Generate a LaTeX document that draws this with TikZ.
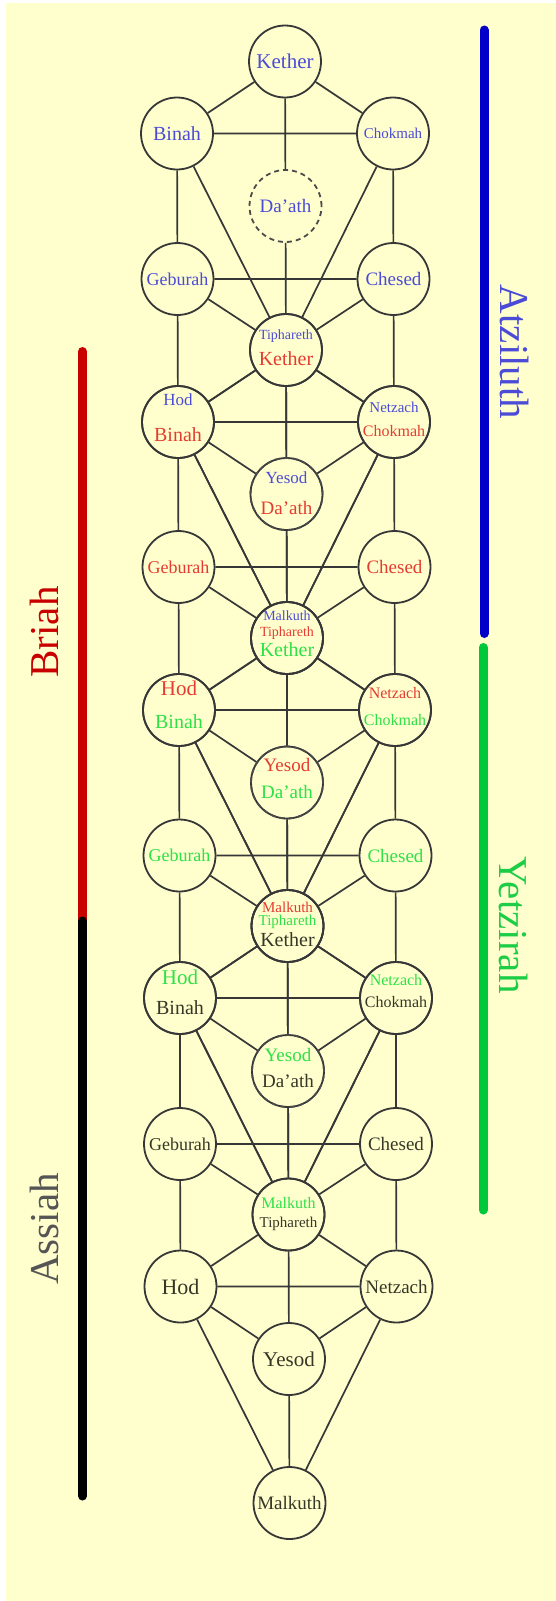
\documentclass[tikz,border=0pt]{standalone}
\usepackage{fontspec}
\setmainfont{Liberation Serif}

\definecolor{paper}{RGB}{255,255,206}
\definecolor{linecol}{RGB}{55,55,55}
\definecolor{atzcol}{RGB}{75,75,215}
\definecolor{bricol}{RGB}{228,60,50}
\definecolor{yetcol}{RGB}{45,225,70}
\definecolor{asscol}{RGB}{55,55,40}
\definecolor{atzbar}{RGB}{0,0,200}
\definecolor{bribar}{RGB}{200,0,0}
\definecolor{yetbar}{RGB}{0,200,60}
\definecolor{assbar}{RGB}{0,0,0}
\definecolor{asslbl}{RGB}{85,85,85}
\definecolor{yetlbl}{RGB}{30,205,70}

\tikzset{
  sephira/.style={circle, draw=linecol, line width=1.8pt, minimum size=72pt, inner sep=0pt},
  sephdash/.style={sephira, draw=linecol!90, dash pattern=on 5pt off 4pt},
  conn/.style={draw=linecol, line width=1.7pt},
  worldbar/.style={line width=9pt, line cap=round},
  worldlbl/.style={font=\fontsize{41}{41}\selectfont},
  sz14/.style={font=\fontsize{14}{14}\selectfont},
  sz15/.style={font=\fontsize{15}{15}\selectfont},
  sz16/.style={font=\fontsize{16}{16}\selectfont},
  sz17/.style={font=\fontsize{17}{17}\selectfont},
  sz18/.style={font=\fontsize{18}{18}\selectfont},
  sz19/.style={font=\fontsize{19}{19}\selectfont},
  sz20/.style={font=\fontsize{20}{20}\selectfont},
  sz21/.style={font=\fontsize{21}{21}\selectfont},
  sz22/.style={font=\fontsize{22}{22}\selectfont}
}

\begin{document}
\begin{tikzpicture}[x=1pt,y=-1pt]
\useasboundingbox (0,0) rectangle (556,1601);
\fill[white] (0,0) rectangle (556,1601);
\fill[paper] (6,3) rectangle (556,1601);

% Atziluth
\node [sephira, label={[sz21,text=atzcol]center:Kether}] (a-ket) at (285,61.5) {};
\node [sephira, label={[sz20,text=atzcol]center:Binah}] (a-bin) at (177,133.5) {};
\node [sephira, label={[sz15,text=atzcol]center:Chokmah}] (a-cho) at (393,133.5) {};
\node [sephdash, label={[sz19,text=atzcol]center:Da'ath}] (a-daa) at (285.5,206) {};
\node [sephira, label={[sz18,text=atzcol]center:Geburah}] (a-geb) at (177.5,279) {};
\node [sephira, label={[sz19,text=atzcol]center:Chesed}] (a-che) at (393.5,279) {};
\node [sephira, label={[sz14,text=atzcol,yshift=14pt]center:Tiphareth}] (a-tip) at (286,350) {};
\node [sephira, label={[sz17,text=atzcol,yshift=22pt]center:Hod}] (a-hod) at (178,422) {};
\node [sephira, label={[sz15,text=atzcol,yshift=15pt]center:Netzach}] (a-net) at (394,422) {};
\node [sephira, label={[sz17,text=atzcol,yshift=16pt]center:Yesod}] (a-yes) at (286.5,494) {};
\node [sephira, label={[sz14,text=atzcol,yshift=22pt]center:Malkuth}] (a-mal) at (287,638) {};

% Briah
\node [sephira, label={[sz20,text=bricol,yshift=-9pt]center:Kether}] (b-ket) at (286,350) {};
\node [sephira, label={[sz20,text=bricol,yshift=-13pt]center:Binah}] (b-bin) at (178,422) {};
\node [sephira, label={[sz16,text=bricol,yshift=-9pt]center:Chokmah}] (b-cho) at (394,422) {};
\node [sephdash, label={[sz19,text=bricol,yshift=-14pt]center:Da'ath}] (b-daa) at (286.5,494) {};
\node [sephira, label={[sz18,text=bricol]center:Geburah}] (b-geb) at (178.5,567) {};
\node [sephira, label={[sz19,text=bricol]center:Chesed}] (b-che) at (394.5,567) {};
\node [sephira, label={[sz14,text=bricol,yshift=5pt]center:Tiphareth}] (b-tip) at (287,638) {};
\node [sephira, label={[sz21,text=bricol,yshift=22pt]center:Hod}] (b-hod) at (179,710) {};
\node [sephira, label={[sz16,text=bricol,yshift=17pt]center:Netzach}] (b-net) at (395,710) {};
\node [sephira, label={[sz19,text=bricol,yshift=18pt]center:Yesod}] (b-yes) at (287,782.5) {};
\node [sephira, label={[sz15,text=bricol,yshift=19pt]center:Malkuth}] (b-mal) at (287.5,926) {};

% Yetzirah
\node [sephira, label={[sz20,text=yetcol,yshift=-12pt]center:Kether}] (y-ket) at (287,638) {};
\node [sephira, label={[sz20,text=yetcol,yshift=-12pt]center:Binah}] (y-bin) at (179,710) {};
\node [sephira, label={[sz16,text=yetcol,yshift=-10pt]center:Chokmah}] (y-cho) at (395,710) {};
\node [sephdash, label={[sz19,text=yetcol,yshift=-9pt]center:Da'ath}] (y-daa) at (287,782.5) {};
\node [sephira, label={[sz18,text=yetcol]center:Geburah}] (y-geb) at (179.5,855.5) {};
\node [sephira, label={[sz19,text=yetcol]center:Chesed}] (y-che) at (395.5,855.5) {};
\node [sephira, label={[sz15,text=yetcol,yshift=4pt]center:Tiphareth}] (y-tip) at (287.5,926) {};
\node [sephira, label={[sz21,text=yetcol,yshift=21pt]center:Hod}] (y-hod) at (180,998) {};
\node [sephira, label={[sz16,text=yetcol,yshift=18pt]center:Netzach}] (y-net) at (396,998) {};
\node [sephira, label={[sz19,text=yetcol,yshift=16pt]center:Yesod}] (y-yes) at (288,1071) {};
\node [sephira, label={[sz16,text=yetcol,yshift=11pt]center:Malkuth}] (y-mal) at (288.5,1214.5) {};

% Assiah
\node [sephira, label={[sz20,text=asscol,yshift=-14pt]center:Kether}] (s-ket) at (287.5,926) {};
\node [sephira, label={[sz20,text=asscol,yshift=-10pt]center:Binah}] (s-bin) at (180,998) {};
\node [sephira, label={[sz16,text=asscol,yshift=-4pt]center:Chokmah}] (s-cho) at (396,998) {};
\node [sephdash, label={[sz19,text=asscol,yshift=-10pt]center:Da'ath}] (s-daa) at (288,1071) {};
\node [sephira, label={[sz18,text=asscol]center:Geburah}] (s-geb) at (180,1144) {};
\node [sephira, label={[sz19,text=asscol]center:Chesed}] (s-che) at (396,1144) {};
\node [sephira, label={[sz15,text=asscol,yshift=-9pt]center:Tiphareth}] (s-tip) at (288.5,1214.5) {};
\node [sephira, label={[sz22,text=asscol]center:Hod}] (s-hod) at (180.5,1286.5) {};
\node [sephira, label={[sz19,text=asscol]center:Netzach}] (s-net) at (396.5,1286.5) {};
\node [sephira, label={[sz21,text=asscol]center:Yesod}] (s-yes) at (289,1359) {};
\node [sephira, label={[sz19,text=asscol]center:Malkuth}] (s-mal) at (289.5,1503) {};

% paths, Atziluth
\draw [conn] (a-ket) -- (a-bin) (a-ket) -- (a-cho) (a-ket) -- (a-daa) (a-daa) -- (a-tip)
  (a-bin) -- (a-cho) (a-bin) -- (a-geb) (a-cho) -- (a-che) (a-bin) -- (a-tip) (a-cho) -- (a-tip);
\draw [conn] (a-geb) -- (a-che) (a-geb) -- (a-tip) (a-che) -- (a-tip) (a-geb) -- (a-hod) (a-che) -- (a-net);
\draw [conn] (a-tip) -- (a-hod) (a-tip) -- (a-net) (a-tip) -- (a-yes) (a-hod) -- (a-net) (a-hod) -- (a-yes) (a-net) -- (a-yes);
\draw [conn] (a-hod) -- (a-mal) (a-net) -- (a-mal) (a-yes) -- (a-mal);

% paths, Briah
\draw [conn] (b-ket) -- (b-bin) (b-ket) -- (b-cho) (b-ket) -- (b-daa) (b-daa) -- (b-tip)
  (b-bin) -- (b-cho) (b-bin) -- (b-geb) (b-cho) -- (b-che) (b-bin) -- (b-tip) (b-cho) -- (b-tip);
\draw [conn] (b-geb) -- (b-che) (b-geb) -- (b-tip) (b-che) -- (b-tip) (b-geb) -- (b-hod) (b-che) -- (b-net);
\draw [conn] (b-tip) -- (b-hod) (b-tip) -- (b-net) (b-tip) -- (b-yes) (b-hod) -- (b-net) (b-hod) -- (b-yes) (b-net) -- (b-yes);
\draw [conn] (b-hod) -- (b-mal) (b-net) -- (b-mal) (b-yes) -- (b-mal);

% paths, Yetzirah
\draw [conn] (y-ket) -- (y-bin) (y-ket) -- (y-cho) (y-ket) -- (y-daa) (y-daa) -- (y-tip)
  (y-bin) -- (y-cho) (y-bin) -- (y-geb) (y-cho) -- (y-che) (y-bin) -- (y-tip) (y-cho) -- (y-tip);
\draw [conn] (y-geb) -- (y-che) (y-geb) -- (y-tip) (y-che) -- (y-tip) (y-geb) -- (y-hod) (y-che) -- (y-net);
\draw [conn] (y-tip) -- (y-hod) (y-tip) -- (y-net) (y-tip) -- (y-yes) (y-hod) -- (y-net) (y-hod) -- (y-yes) (y-net) -- (y-yes);
\draw [conn] (y-hod) -- (y-mal) (y-net) -- (y-mal) (y-yes) -- (y-mal);

% paths, Assiah
\draw [conn] (s-ket) -- (s-bin) (s-ket) -- (s-cho) (s-ket) -- (s-daa) (s-daa) -- (s-tip)
  (s-bin) -- (s-cho) (s-bin) -- (s-geb) (s-cho) -- (s-che) (s-bin) -- (s-tip) (s-cho) -- (s-tip);
\draw [conn] (s-geb) -- (s-che) (s-geb) -- (s-tip) (s-che) -- (s-tip) (s-geb) -- (s-hod) (s-che) -- (s-net);
\draw [conn] (s-tip) -- (s-hod) (s-tip) -- (s-net) (s-tip) -- (s-yes) (s-hod) -- (s-net) (s-hod) -- (s-yes) (s-net) -- (s-yes);
\draw [conn] (s-hod) -- (s-mal) (s-net) -- (s-mal) (s-yes) -- (s-mal);

% the four worlds
\coordinate (atz-top) at (484,30);
\coordinate (atz-end) at (484,633.5);
\coordinate (yet-top) at (483,647.5);
\coordinate (yet-end) at (483,1210);
\coordinate (bri-top) at (82.5,351.5);
\coordinate (bri-end) at (82.5,921);
\coordinate (ass-end) at (82.5,1496);
\draw [worldbar, atzbar] (atz-top) -- (atz-end);
\draw [worldbar, yetbar] (yet-top) -- (yet-end);
\draw [worldbar, bribar] (bri-top) -- (bri-end);
\draw [worldbar, assbar] (bri-end) -- (ass-end);
\node [worldlbl, text=atzcol, rotate=-90] (atz) at (515,352) {Atziluth};
\node [worldlbl, text=yetlbl, rotate=-90] (yet) at (514,925) {Yetzirah};
\node [worldlbl, text=bribar, rotate=90] (bri) at (44,632) {Briah};
\node [worldlbl, text=asslbl, rotate=90] (ass) at (44,1229) {Assiah};
\end{tikzpicture}
\end{document}
